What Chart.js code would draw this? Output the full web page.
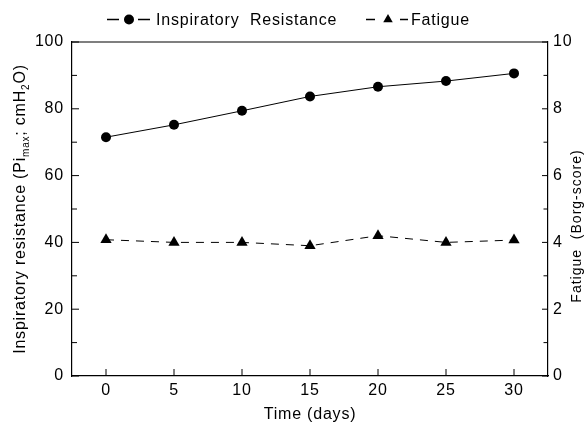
<!DOCTYPE html>
<html>
<head>
<meta charset="utf-8">
<script src="https://cdn.jsdelivr.net/npm/chart.js@4.4.0/dist/chart.umd.min.js"></script>
<style>
  body { margin: 0; background: #fff; }
  #wrap { width: 585px; height: 424px; }
</style>
</head>
<body>
<div id="wrap"><canvas id="chart"></canvas></div>
<script>
// days on study
const days = [0, 5, 10, 15, 20, 25, 30];
// inspiratory resistance, cmH2O
const resistance = [71.5, 75.2, 79.4, 83.7, 86.6, 88.3, 90.6];
// fatigue, Borg score
const fatigue = [4.08, 4.0, 4.0, 3.9, 4.2, 4.0, 4.07];

const resistanceTicks = [0, 20, 40, 60, 80, 100];
const resistanceMinor = [10, 30, 50, 70, 90];
const fatigueTicks = [0, 2, 4, 6, 8, 10];
const fatigueMinor = [1, 3, 5, 7, 9];

const FONT = "'Liberation Sans', Arial, Helvetica, sans-serif";
const INK = "#000";

// left title, pieces flagged 1 are subscripts
const yTitle = [["Inspiratory resistance (Pi", 0], ["max", 1], ["; cmH", 0], ["2", 1], ["O)", 0]];
const y1Title = "Fatigue  (Borg-score)";

// legend slots: dash, marker, dash, text
const legendSlots = [
  { d1: [107, 119], m: 129, d2: [138, 150], t: 156 },
  { d1: [366, 375], m: 388, d2: [400, 408], t: 411 },
];

const marker = (ctx, style, x, y, r) => {
  ctx.beginPath();
  if (style === "triangle") {
    ctx.moveTo(x, y - r);
    ctx.lineTo(x + r * 0.866, y + r * 0.5);
    ctx.lineTo(x - r * 0.866, y + r * 0.5);
    ctx.closePath();
  } else {
    ctx.arc(x, y, r, 0, Math.PI * 2);
  }
  ctx.fill();
};

const decor = {
  id: "decor",
  beforeDraw(chart) {
    chart.ctx.letterSpacing = "0.8px";
  },
  afterDraw(chart) {
    const ctx = chart.ctx;
    const area = chart.chartArea;
    const sx = chart.scales.x, sy = chart.scales.y, sy1 = chart.scales.y1;
    ctx.save();
    ctx.strokeStyle = INK;
    ctx.fillStyle = INK;

    // top of the frame
    ctx.lineWidth = 1.2;
    ctx.beginPath();
    ctx.moveTo(area.left, area.top);
    ctx.lineTo(area.right, area.top);
    ctx.stroke();

    // tick marks point inward
    ctx.lineWidth = 1;
    const line = (x1, y1, x2, y2) => {
      ctx.beginPath(); ctx.moveTo(x1, y1); ctx.lineTo(x2, y2); ctx.stroke();
    };
    days.forEach(d => { const x = sx.getPixelForValue(d); line(x, area.bottom, x, area.bottom - 7); });
    resistanceTicks.forEach(v => { const y = sy.getPixelForValue(v); line(area.left, y, area.left + 7, y); });
    resistanceMinor.forEach(v => { const y = sy.getPixelForValue(v); line(area.left, y, area.left + 5, y); });
    fatigueTicks.forEach(v => { const y = sy1.getPixelForValue(v); line(area.right, y, area.right - 6, y); });
    fatigueMinor.forEach(v => { const y = sy1.getPixelForValue(v); line(area.right, y, area.right - 4.5, y); });

    // legend
    ctx.textBaseline = "middle";
    ctx.textAlign = "left";
    ctx.font = "16px " + FONT;
    ctx.lineWidth = 1.5;
    const ly = 19.5;
    chart.data.datasets.forEach((ds, i) => {
      const s = legendSlots[i];
      line(s.d1[0], ly, s.d1[1], ly);
      line(s.d2[0], ly, s.d2[1], ly);
      marker(ctx, ds.pointStyle, s.m, ly, ds.pointStyle === "triangle" ? 5.5 : 5);
      ctx.fillText(ds.label, s.t, ly + 1);
    });

    // left axis title with subscripts
    const big = "16px " + FONT, small = "10px " + FONT;
    let total = 0;
    yTitle.forEach(p => { ctx.font = p[1] ? small : big; total += ctx.measureText(p[0]).width; });
    ctx.save();
    ctx.translate(24.5, (area.top + area.bottom) / 2);
    ctx.rotate(-Math.PI / 2);
    ctx.textBaseline = "alphabetic";
    let cx = -total / 2;
    yTitle.forEach(p => {
      ctx.font = p[1] ? small : big;
      ctx.fillText(p[0], cx, p[1] ? 4 : 0);
      cx += ctx.measureText(p[0]).width;
    });
    ctx.restore();

    // right axis title, reads upward
    ctx.save();
    ctx.translate(581, 226);
    ctx.rotate(-Math.PI / 2);
    ctx.letterSpacing = "1px";
    ctx.font = "14px " + FONT;
    ctx.textAlign = "center";
    ctx.textBaseline = "alphabetic";
    ctx.fillText(y1Title, 0, 0);
    ctx.restore();

    ctx.restore();
  }
};

new Chart(document.getElementById("chart"), {
  type: "line",
  data: {
    datasets: [
      {
        label: "Inspiratory  Resistance",
        data: days.map((d, i) => ({ x: d, y: resistance[i] })),
        yAxisID: "y",
        borderColor: INK,
        borderWidth: 1,
        pointStyle: "circle",
        pointRadius: 5,
        pointBackgroundColor: INK,
        pointBorderWidth: 0,
      },
      {
        label: "Fatigue",
        data: days.map((d, i) => ({ x: d, y: fatigue[i] })),
        yAxisID: "y1",
        borderColor: INK,
        borderWidth: 1,
        borderDash: [8, 7],
        pointStyle: "triangle",
        pointRadius: 6.5,
        pointBackgroundColor: INK,
        pointBorderWidth: 0,
      },
    ],
  },
  options: {
    responsive: true,
    maintainAspectRatio: false,
    animation: false,
    layout: { padding: { top: 42, left: 0, right: 0, bottom: 0 } },
    plugins: { legend: { display: false }, tooltip: { enabled: false } },
    scales: {
      x: {
        type: "linear",
        min: -2.5,
        max: 32.5,
        afterBuildTicks: s => { s.ticks = days.map(v => ({ value: v })); },
        afterFit: s => { s.height = 48; },
        grid: { display: false, drawTicks: false },
        border: { display: true, color: INK, width: 1.2 },
        ticks: { color: INK, font: { family: FONT, size: 16 }, padding: 5, maxRotation: 0 },
        title: { display: true, text: "Time (days)", color: INK, font: { family: FONT, size: 16 }, padding: { top: 0, bottom: 0 } },
      },
      y: {
        position: "left",
        min: 0,
        max: 100,
        afterBuildTicks: s => { s.ticks = resistanceTicks.map(v => ({ value: v })); },
        afterFit: s => { s.width = 72; },
        grid: { display: false, drawTicks: false },
        border: { display: true, color: INK, width: 1.2 },
        ticks: { color: INK, font: { family: FONT, size: 16 }, padding: 8 },
      },
      y1: {
        position: "right",
        min: 0,
        max: 10,
        afterBuildTicks: s => { s.ticks = fatigueTicks.map(v => ({ value: v })); },
        afterFit: s => { s.width = 37; },
        grid: { display: false, drawTicks: false },
        border: { display: true, color: INK, width: 1.2 },
        ticks: { color: INK, font: { family: FONT, size: 16 }, padding: 5 },
      },
    },
  },
  plugins: [decor],
});
</script>
</body>
</html>
